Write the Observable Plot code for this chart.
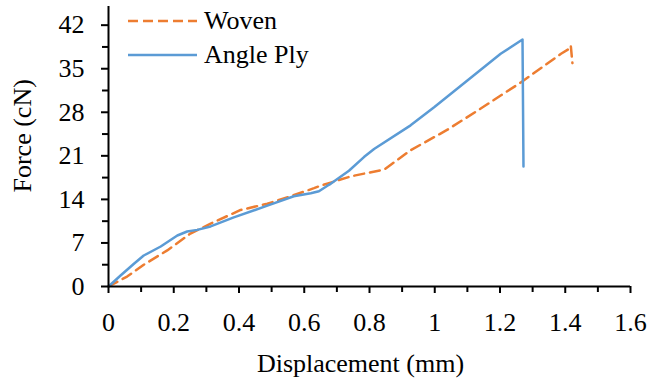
<!DOCTYPE html>
<html>
<head>
<meta charset="utf-8">
<script src="https://cdn.jsdelivr.net/npm/d3@7"></script>
<script src="https://cdn.jsdelivr.net/npm/@observablehq/plot@0.6"></script>
<style>
  body { margin: 0; background: #fff; }
  #wrap { position: relative; width: 647px; height: 381px; font-family: "Liberation Serif", "Times New Roman", serif; }
  #legend { position: absolute; left: 128px; top: 4px; font-size: 26px; color: #000; }
  #legend .row { display: flex; align-items: center; height: 34px; }
  #legend svg { margin-right: 7px; }
</style>
</head>
<body>
<div id="wrap"><div id="legend"></div></div>
<script>
// Series names and colours
const seriesNames = ["Woven", "Angle Ply"];
const seriesColors = ["#ED7D31", "#5B9BD5"];

// Woven (displacement mm, force cN)
const wovenX = [0, 0.057, 0.108, 0.18, 0.251, 0.313, 0.405, 0.487, 0.558, 0.63, 0.65, 0.737, 0.752, 0.845, 0.926, 1.039, 1.141, 1.264, 1.387, 1.412, 1.417, 1.422];
const wovenY = [0, 1.6, 3.5, 5.8, 8.5, 10.1, 12.3, 13.3, 14.5, 15.8, 16.2, 17.6, 17.8, 18.8, 21.9, 25.2, 28.6, 32.8, 37.4, 38.2, 38.7, 35.9];

// Angle Ply
const angleX = [0, 0.037, 0.078, 0.108, 0.16, 0.211, 0.241, 0.272, 0.313, 0.384, 0.487, 0.568, 0.62, 0.645, 0.671, 0.681, 0.737, 0.783, 0.814, 0.926, 0.998, 1.1, 1.202, 1.269, 1.272];
const angleY = [0, 1.77, 3.65, 4.98, 6.43, 8.2, 8.84, 9.1, 9.65, 11.1, 13.0, 14.5, 15.0, 15.3, 16.2, 16.5, 18.6, 20.8, 22.1, 25.9, 28.8, 33.1, 37.4, 39.7, 19.3];

// Axis ticks
const xTicks = [0, 0.2, 0.4, 0.6, 0.8, 1, 1.2, 1.4, 1.6];
const xMinor = [0.1, 0.3, 0.5, 0.7, 0.9, 1.1, 1.3, 1.5];
const yTicks = [0, 7, 14, 21, 28, 35, 42];
const yMinor = [3.5, 10.5, 17.5, 24.5, 31.5, 38.5];
const xDomain = [0, 1.6];
const yDomain = [0, 45];
const xLabel = "Displacement (mm)";
const yLabel = "Force (cN)";

const woven = wovenX.map((x, i) => ({x, y: wovenY[i]}));
const angle = angleX.map((x, i) => ({x, y: angleY[i]}));

const font = '"Liberation Serif", "Times New Roman", serif';

const chart = Plot.plot({
  width: 647,
  height: 381,
  marginLeft: 108,
  marginRight: 17,
  marginTop: 6,
  marginBottom: 95,
  style: {fontFamily: font, fontSize: "26px", color: "#000", background: "#fff", overflow: "visible"},
  x: {domain: xDomain},
  y: {domain: yDomain},
  marks: [
    Plot.line(woven, {x: "x", y: "y", stroke: seriesColors[0], strokeWidth: 2.5, strokeDasharray: "10,6"}),
    Plot.line(angle, {x: "x", y: "y", stroke: seriesColors[1], strokeWidth: 2.5}),
    Plot.ruleY([0], {stroke: "#000", strokeWidth: 2}),
    Plot.ruleX([0], {stroke: "#000", strokeWidth: 2}),
    Plot.axisX({ticks: xTicks, tickSize: 7, tickPadding: 19, strokeWidth: 2, tickFormat: d => String(d), label: null, fontSize: 26}),
    Plot.axisX({ticks: xMinor, tickSize: 6, strokeWidth: 2, tickFormat: () => "", label: null}),
    Plot.axisY({ticks: yTicks, tickSize: 7, tickPadding: 17, strokeWidth: 2, tickFormat: d => String(d), label: null, fontSize: 26}),
    Plot.axisY({ticks: yMinor, tickSize: 6, strokeWidth: 2, tickFormat: () => "", label: null}),
    Plot.text([xLabel], {frameAnchor: "bottom", textAnchor: "middle", lineAnchor: "top", dy: 67, dx: -9, fontSize: 26, fill: "#000"}),
    Plot.text([yLabel], {frameAnchor: "left", lineAnchor: "top", rotate: -90, dx: -96, dy: 46, fontSize: 26, fill: "#000"})
  ]
});

const wrap = document.getElementById("wrap");
wrap.insertBefore(chart, wrap.firstChild);

// Legend (inside plot area, top-left)
const legend = d3.select("#legend");
seriesNames.forEach((name, i) => {
  const row = legend.append("div").attr("class", "row");
  const svg = row.append("svg").attr("width", 69).attr("height", 6);
  svg.append("line")
    .attr("x1", 0).attr("x2", 69).attr("y1", 3).attr("y2", 3)
    .attr("stroke", seriesColors[i]).attr("stroke-width", 2.5)
    .attr("stroke-dasharray", i === 0 ? "10,5" : null);
  row.append("span").text(name);
});
</script>
</body>
</html>
